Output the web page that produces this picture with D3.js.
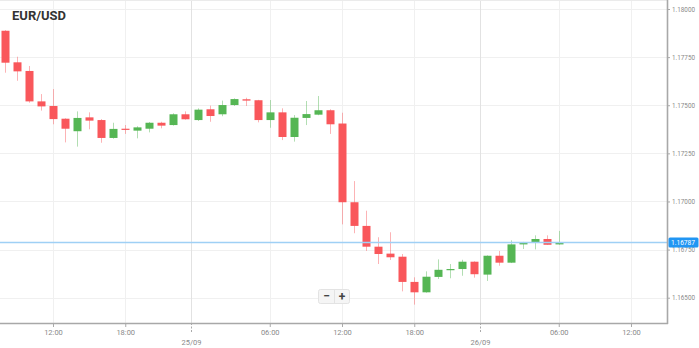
<!DOCTYPE html>
<html><head><meta charset="utf-8">
<script src="https://cdn.jsdelivr.net/npm/d3@7"></script>
<style>body{margin:0;background:#fff}svg{display:block}</style>
</head><body><svg id="c" width="699" height="348"></svg>
<script>
// ---- data (EUR/USD hourly candles, 24/09 08:00 -> 26/09 06:00) ----
const startTime = "2018-09-24T08:00:00Z";
const opens  = [1.17887,1.17723,1.17678,1.17520,1.17496,1.17430,1.17365,1.17437,1.17423,1.17330,
                1.17378,1.17368,1.17378,1.17409,1.17397,1.17453,1.17423,1.17479,1.17453,1.17501,
                1.17531,1.17526,1.17423,1.17463,1.17335,1.17434,1.17451,1.17474,1.17405,1.16996,
                1.16873,1.16765,1.16729,1.16713,1.16582,1.16528,1.16608,1.16644,1.16649,1.16687,
                1.16620,1.16718,1.16682,1.16777,1.16786,1.16805,1.16777];
const highs  = [1.17890,1.17752,1.17704,1.17558,1.17584,1.17432,1.17468,1.17463,1.17428,1.17409,
                1.17397,1.17391,1.17413,1.17414,1.17458,1.17468,1.17484,1.17498,1.17524,1.17536,
                1.17539,1.17528,1.17527,1.17484,1.17449,1.17522,1.17548,1.17479,1.17461,1.17106,
                1.16952,1.16814,1.16840,1.16727,1.16606,1.16637,1.16699,1.16675,1.16697,1.16689,
                1.16720,1.16743,1.16798,1.16790,1.16824,1.16824,1.16847];
const lows   = [1.17669,1.17627,1.17513,1.17472,1.17401,1.17307,1.17285,1.17375,1.17305,1.17326,
                1.17351,1.17328,1.17359,1.17380,1.17394,1.17425,1.17418,1.17414,1.17443,1.17496,
                1.17496,1.17411,1.17383,1.17319,1.17311,1.17397,1.17448,1.17351,1.16881,1.16835,
                1.16743,1.16675,1.16696,1.16533,1.16464,1.16526,1.16597,1.16601,1.16614,1.16604,
                1.16587,1.16666,1.16680,1.16753,1.16751,1.16775,1.16775];
const closes = [1.17721,1.17676,1.17520,1.17494,1.17428,1.17378,1.17434,1.17420,1.17330,1.17377,
                1.17375,1.17385,1.17409,1.17394,1.17453,1.17427,1.17477,1.17444,1.17501,1.17532,
                1.17524,1.17423,1.17463,1.17335,1.17435,1.17454,1.17474,1.17401,1.16996,1.16873,
                1.16765,1.16727,1.16710,1.16582,1.16528,1.16609,1.16645,1.16649,1.16687,1.16622,
                1.16718,1.16682,1.16777,1.16788,1.16805,1.16775,1.16787];
const currentPrice = 1.16787;
const priceTicks = [1.165,1.1675,1.17,1.1725,1.175,1.1775,1.18];
const hourTicks = ["2018-09-24T12:00:00Z","2018-09-24T18:00:00Z","2018-09-25T06:00:00Z","2018-09-25T12:00:00Z",
                   "2018-09-25T18:00:00Z","2018-09-26T06:00:00Z","2018-09-26T12:00:00Z"];
const dateTicks = ["2018-09-24T23:30:00Z","2018-09-25T23:30:00Z"];
const dateLabels = ["25/09","26/09"];
const title = "EUR/USD";

// ---- drawing ----
const W = 667, H = 323;
const svg = d3.select("#c");
const t0 = new Date(startTime).getTime();
const candles = opens.map((o,i)=>({t:new Date(t0+i*3600e3),o,h:highs[i],l:lows[i],c:closes[i]}));

const x = d3.scaleUtc()
  .domain([new Date("2018-09-24T12:00:00Z"), new Date("2018-09-26T12:00:00Z")])
  .range([53, 631]);
const y = d3.scaleLinear().domain([1.165,1.18]).range([297.7, 9]);

const hT = hourTicks.map(d=>new Date(d));
const dT = dateTicks.map(d=>new Date(d));
const FONT = "7px Roboto, sans-serif";

// grid
const g = svg.append("g");
g.selectAll(".hg").data(priceTicks).join("line")
  .attr("x1",0).attr("x2",W).attr("y1",d=>Math.round(y(d))+0.5).attr("y2",d=>Math.round(y(d))+0.5)
  .attr("stroke","#f0f0f0");
g.selectAll(".vg").data(hT).join("line")
  .attr("y1",0).attr("y2",H).attr("x1",d=>Math.round(x(d))+0.5).attr("x2",d=>Math.round(x(d))+0.5)
  .attr("stroke","#f0f0f0");
g.selectAll(".dg").data(dT).join("line")
  .attr("y1",0).attr("y2",H).attr("x1",d=>Math.round(x(d))+0.5).attr("x2",d=>Math.round(x(d))+0.5)
  .attr("stroke","#e2e2e2");
g.append("line").attr("x1",0).attr("x2",W).attr("y1",0.5).attr("y2",0.5).attr("stroke","#ebebeb");

// candles
const RED="#f9575b", GREEN="#55b654";
const cg = svg.append("g");
const bw = 8;
cg.selectAll(".wick").data(candles).join("line")
  .attr("x1",d=>Math.round(x(d.t))+0.5).attr("x2",d=>Math.round(x(d.t))+0.5)
  .attr("y1",d=>y(d.h)).attr("y2",d=>y(d.l))
  .attr("stroke",d=>d.c>=d.o?GREEN:RED).attr("stroke-opacity",0.45).attr("stroke-width",1);
cg.selectAll(".body").data(candles).join("rect")
  .attr("x",d=>Math.round(x(d.t))-bw/2+0.5).attr("width",bw)
  .attr("y",d=>y(Math.max(d.o,d.c)))
  .attr("height",d=>Math.max(1.2,Math.abs(y(d.o)-y(d.c))))
  .attr("fill",d=>d.c>=d.o?GREEN:RED);

// current price line
svg.append("line").attr("x1",0).attr("x2",W).attr("y1",y(currentPrice)).attr("y2",y(currentPrice))
  .attr("stroke","#9fd0f5").attr("stroke-width",1.6);

// axes
const ra = svg.append("g").attr("transform",`translate(${W},0)`)
  .call(d3.axisRight(y).tickValues(priceTicks).tickFormat(d3.format(".5f")).tickSize(3).tickPadding(2));
ra.select(".domain").remove();
ra.selectAll("line").attr("stroke","#aaa");
ra.selectAll("text").attr("fill","#8a8a8a").style("font",FONT)
  .attr("textLength",23).attr("lengthAdjust","spacingAndGlyphs");

const ba = svg.append("g").attr("transform",`translate(0,${H})`)
  .call(d3.axisBottom(x).tickValues(hT).tickFormat(d3.utcFormat("%H:%M")).tickSize(4).tickPadding(3));
ba.select(".domain").remove();
ba.selectAll("line").attr("stroke","#aaa");
ba.selectAll("text").attr("fill","#8a8a8a").style("font","7.5px Roboto, sans-serif");

const da = svg.append("g").attr("transform",`translate(0,${H})`);
da.selectAll("line").data(dT).join("line")
  .attr("x1",d=>Math.round(x(d))+0.5).attr("x2",d=>Math.round(x(d))+0.5).attr("y1",0).attr("y2",9)
  .attr("stroke","#aaa").attr("stroke-dasharray","2,1.5");
da.selectAll("text").data(dT).join("text")
  .attr("x",d=>x(d)).attr("y",22).attr("text-anchor","middle")
  .attr("fill","#8a8a8a").style("font","7.5px Roboto, sans-serif")
  .text((d,i)=>dateLabels[i]);

// axis lines
svg.append("line").attr("x1",W+0.5).attr("x2",W+0.5).attr("y1",0).attr("y2",H+1).attr("stroke","#a8a8a8").attr("stroke-width",1.6);
svg.append("line").attr("x1",0).attr("x2",W+1).attr("y1",H+0.5).attr("y2",H+0.5).attr("stroke","#a8a8a8").attr("stroke-width",1.6);

// price label
const py = y(currentPrice);
svg.append("rect").attr("x",W+1.5).attr("y",py-5).attr("width",30).attr("height",10).attr("rx",1.5).attr("fill","#2196f3");
svg.append("text").attr("x",W+4).attr("y",py+2.5).attr("fill","#fff").style("font",FONT)
  .attr("textLength",24).attr("lengthAdjust","spacingAndGlyphs")
  .text(d3.format(".5f")(currentPrice));

// title
svg.append("text").attr("x",12).attr("y",20).attr("fill","#333")
  .style("font","bold 13px Roboto, sans-serif").text(title);

// zoom buttons
const zb = svg.append("g").attr("transform","translate(318,289)");
zb.append("rect").attr("x",0.5).attr("y",0.5).attr("width",31).attr("height",14).attr("rx",2)
  .attr("fill","#f5f5f5").attr("stroke","#e3e3e3");
zb.append("line").attr("x1",16.5).attr("x2",16.5).attr("y1",1).attr("y2",14).attr("stroke","#e3e3e3");
zb.append("text").attr("x",8.5).attr("y",11).attr("text-anchor","middle").attr("fill","#444")
  .style("font","bold 12px Roboto, sans-serif").text("−");
zb.append("text").attr("x",24).attr("y",11.5).attr("text-anchor","middle").attr("fill","#444")
  .style("font","bold 12px Roboto, sans-serif").text("+");
</script></body></html>
